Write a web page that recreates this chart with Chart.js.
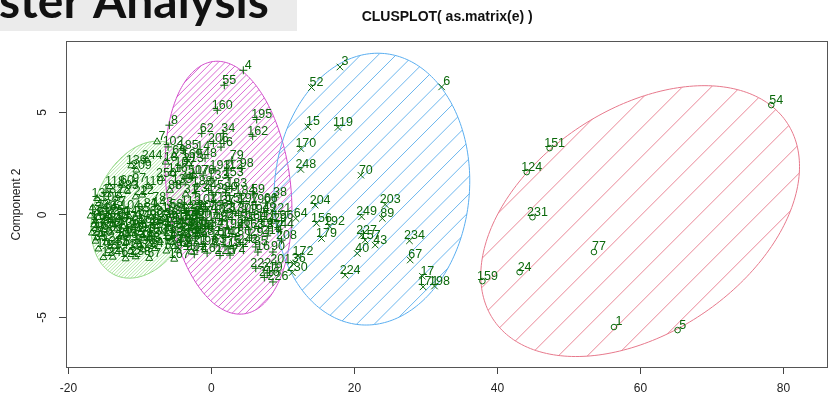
<!DOCTYPE html>
<html>
<head>
<meta charset="utf-8">
<script src="https://cdn.jsdelivr.net/npm/chart.js@4.4.1/dist/chart.umd.min.js"></script>
<style>
  html, body { margin: 0; padding: 0; background: #ffffff; }
  #wrap { position: relative; width: 833px; height: 405px; overflow: hidden; }
  canvas { display: block; }
</style>
</head>
<body>
<div id="wrap"><canvas id="clus" width="833" height="405"></canvas></div>
<script>
// ---- axis ticks ----
const xTickValues = [-20, 0, 20, 40, 60, 80];
const yTickValues = [-5, 0, 5];

// ---- cluster 1 (triangles) ----
const greenLabels = [
  7, 244, 209, 118, 60, 97, 132, 72, 12, 246,
  2, 131, 27, 104, 81, 143, 58, 113, 220,
  11, 93, 125, 30, 145, 68, 236, 21, 138, 177,
  19, 84, 120, 106, 32, 166, 241, 61, 126, 200,
  28, 9, 86, 140, 42, 115, 150, 73, 189, 233, 109,
  35, 127, 20, 99, 148, 65, 211, 45, 187,
  10, 91, 141, 39, 128, 247, 51, 94, 202,
  13, 122, 238, 57, 167,
  137, 105, 83, 22, 110, 250, 116, 44, 18, 69, 213, 117, 31, 88, 78, 139,
  74, 82, 95, 108,
  114, 136, 147, 149, 154, 158,
  165, 173, 176, 181, 191, 205,
  210, 217, 218, 223, 228,
  235, 239, 243
];
const greenX = [
  -7.6, -9.0, -10.5, -14.2, -12.5, -10.8, -14.5, -12.9, -9.7, -13.8,
  -16.6, -15.2, -13.6, -12.0, -9.2, -7.5, -5.6, -3.6, -2.2,
  -16.9, -15.8, -14.4, -13.0, -11.5, -8.4, -6.8, -5.0, -3.2, -1.8,
  -16.4, -15.0, -13.8, -12.3, -10.8, -9.5, -7.8, -6.1, -4.4, -2.7,
  -16.7, -15.5, -14.1, -12.6, -11.1, -9.9, -8.3, -6.6, -5.2, -3.5, -1.9,
  -16.2, -14.7, -13.2, -11.9, -10.3, -8.8, -7.2, -5.6, -3.9,
  -15.8, -14.4, -12.8, -11.3, -9.6, -7.9, -6.3, -4.7, -2.8,
  -15.1, -12.0, -10.6, -8.7, -5.2,
  -16.0, -14.8, -11.8, -10.6, -8.8, -7.0, -5.4, -4.0, -6.4, -5.2, -3.2, -2.4, -3.6, -5.8, -8.0, -11.2,
  -16.0, -14.0, -10.2, -6.2,
  -16.2, -14.9, -12.6, -9.8, -7.2, -4.0,
  -15.8, -13.2, -11.6, -8.9, -5.8, -2.3,
  -16.0, -12.3, -9.4, -6.0, -3.0,
  -13.6, -10.0, -5.2
];
const greenY = [
  3.57, 2.67, 2.19, 1.37, 1.45, 1.55, 1.01, 0.95, 0.97, -2.06,
  0.35, 0.28, 0.40, 0.22, 0.30, 0.38, 0.25, 0.42, 0.20,
  -0.05, -0.12, -0.02, -0.15, -0.08, -0.10, -0.18, -0.04, -0.14, -0.06,
  -0.48, -0.55, -0.44, -0.58, -0.50, -0.46, -0.56, -0.42, -0.52, -0.60,
  -0.88, -0.95, -0.84, -0.98, -0.90, -0.86, -0.96, -0.82, -0.94, -0.88, -0.98,
  -1.28, -1.36, -1.24, -1.34, -1.30, -1.38, -1.26, -1.32, -1.40,
  -1.66, -1.74, -1.68, -1.78, -1.70, -1.64, -1.76, -1.72, -1.80,
  -2.08, -2.14, -2.04, -2.12, -2.16,
  0.80, 0.62, 1.18, 0.88, 1.40, 1.78, 2.02, 1.60, 2.58, 2.90, 2.50, 1.92, 1.02, 1.20, 0.62, 2.40,
  0.10, 0.15, 0.05, 0.12,
  -0.30, -0.28, -0.34, -0.26, -0.32, -0.30,
  -0.72, -0.68, -0.74, -0.70, -0.66, -0.76,
  -1.12, -1.08, -1.14, -1.10, -1.16,
  -1.52, -1.48, -1.54
];

// ---- cluster 2 (plus signs) ----
const magentaLabels = [
  4, 55, 160, 195, 162, 8, 62, 34, 206, 46, 185, 102, 14, 48, 79, 98,
  193, 112, 76, 153, 133, 183, 38, 197, 182, 174, 16, 219, 226, 216, 208, 90,
  23, 129, 80, 184, 59,
  101, 215, 37, 152, 190, 66,
  123, 25, 178, 103, 237, 130, 75, 194, 49, 221,
  155, 33, 207, 146, 92, 240, 53, 164, 111, 229, 96,
  41, 186, 134, 71, 199, 26, 163, 212, 87, 144,
  168, 56, 232, 100, 142, 180, 29, 214,
  121, 196, 63, 175, 242, 85,
  47, 161, 225,
  107, 50, 188, 135, 245, 169, 222, 201
];
const magentaX = [
  4.46, 1.80, 0.82, 6.33, 5.77, -5.88, -1.36, 1.66, 0.27, 1.34, -3.93, -6.06, -1.86, -0.89, 2.84, 4.23,
  0.50, 2.32, -1.17, 2.36, 0.22, 2.84, 8.88, 4.44, 3.05, 2.60, 6.50, 7.80, 8.60, 7.40, 9.80, 8.60,
  -2.2, 0.2, 2.0, 4.0, 5.8,
  -1.4, 0.6, 1.6, 2.8, 6.2, 7.6,
  -3.6, -2.0, -0.6, 0.8, 2.2, 3.4, 4.8, 6.0, 7.4, 9.0,
  -4.0, -2.6, -1.2, 0.2, 1.5, 2.9, 4.2, 5.6, 7.0, 8.4, 9.8,
  -3.2, -1.8, -0.4, 1.0, 2.4, 3.8, 5.2, 6.6, 8.0, 9.4,
  -3.6, -2.2, -0.8, 0.6, 2.0, 3.4, 5.6, 7.8,
  -2.8, -1.2, 0.4, 1.9, 4.4, 6.2,
  -2.4, -0.6, 1.2,
  -4.4, -3.0, -2.0, -4.8, -0.4, -3.4, 6.2, 9.0
];
const magentaY = [
  7.06, 6.33, 5.11, 4.66, 3.84, 4.38, 3.98, 3.98, 3.49, 3.31, 3.16, 3.32, 3.07, 2.77, 2.67, 2.27,
  2.19, 2.19, 1.94, 1.83, 1.70, 1.29, 0.87, 0.57, -1.62, -1.96, -1.81, -2.83, -3.27, -3.05, -1.23, -1.81,
  1.04, 0.98, 1.08, 0.96, 1.02,
  0.52, 0.60, 0.48, 0.56, 0.50, 0.58,
  0.12, 0.06, 0.16, 0.04, 0.14, 0.08, 0.18, 0.02, 0.12, 0.06,
  -0.28, -0.34, -0.24, -0.36, -0.30, -0.22, -0.38, -0.26, -0.32, -0.40, -0.28,
  -0.68, -0.74, -0.64, -0.76, -0.70, -0.62, -0.72, -0.66, -0.78, -0.70,
  -1.08, -1.14, -1.04, -1.16, -1.10, -1.06, -1.12, -1.02,
  -1.48, -1.54, -1.46, -1.52, -1.44, -1.56,
  -1.92, -1.86, -1.98,
  2.30, 1.90, 1.40, 1.50, 1.20, 2.70, -2.60, -2.40
];

// ---- cluster 3 (x marks) ----
const blueLabels = [3, 52, 6, 15, 119, 170, 248, 70, 204, 203, 64, 249, 89, 156, 192,
  179, 227, 157, 43, 40, 234, 67, 172, 36, 230, 224, 17, 171, 198];
const blueX = [17.97, 14.0, 32.2, 13.5, 17.7, 12.5, 12.5, 20.9, 14.5, 24.3, 11.8, 21.0, 23.9, 14.7, 16.5,
  15.4, 21.0, 21.5, 22.9, 20.4, 27.7, 27.8, 12.1, 11.5, 11.3, 18.7, 29.5, 29.6, 31.2];
const blueY = [7.22, 6.22, 6.25, 4.30, 4.27, 3.24, 2.22, 1.94, 0.48, 0.51, -0.17, -0.09, -0.17, -0.41, -0.55,
  -1.15, -0.99, -1.23, -1.47, -1.88, -1.26, -2.20, -2.01, -2.38, -2.81, -2.94, -2.99, -3.51, -3.47];

// ---- cluster 4 (circles) ----
const redLabels = [54, 151, 124, 231, 77, 24, 159, 1, 5];
const redX = [78.3, 47.3, 44.1, 44.9, 53.5, 43.1, 37.9, 56.3, 65.2];
const redY = [5.36, 3.26, 2.09, -0.11, -1.81, -2.79, -3.23, -5.47, -5.62];

// ---- cluster ellipses: centre and two conjugate semi-axes (data units) ----
const ellipseCX = [-9.49, 2.39, 22.44, 59.96];
const ellipseCY = [0.26, 1.33, 1.26, -0.30];
const ellipseUX = [7.34, 8.87, 13.69, 22.29];
const ellipseUY = [0.90, -1.11, 0.40, 2.66];
const ellipseVX = [0, 0, 0, 0];
const ellipseVY = [-3.22, -6.07, -6.62, -6.05];

// ---- styling ----
const FONT = '"Liberation Sans", Arial, Helvetica, sans-serif';
const POINT_COLOR = '#0a680a';
const ELLIPSE_COLORS = ['#8ed680', '#d24ccb', '#5aaef0', '#e7798c'];
const HATCH_COLORS = ['#b2e7a7', '#da6ad3', '#6cb6ee', '#ea8797'];
const HATCH_GAP = [2.4, 4.8, 12.5, 20.5];   // perpendicular spacing of shading lines, px
const X_RANGE = [-20.2, 86.15];
const Y_RANGE = [-7.42, 8.44];

const toPoints = (xs, ys) => xs.map((v, i) => ({ x: v, y: ys[i] }));
const clusters = [
  { labels: greenLabels, data: toPoints(greenX, greenY), style: 'triangle', radius: 4 },
  { labels: magentaLabels, data: toPoints(magentaX, magentaY), style: 'cross', radius: 4 },
  { labels: blueLabels, data: toPoints(blueX, blueY), style: 'crossRot', radius: 4.6 },
  { labels: redLabels, data: toPoints(redX, redY), style: 'circle', radius: 2.8 }
];

// shaded ellipses behind the points
const ellipsePlugin = {
  id: 'clusterEllipses',
  beforeDatasetsDraw(chart) {
    const { ctx, chartArea: a, scales: { x, y } } = chart;
    ctx.save();
    ctx.beginPath();
    ctx.rect(a.left, a.top, a.right - a.left, a.bottom - a.top);
    ctx.clip();
    ellipseCX.forEach((cx, i) => {
      const pts = [];
      for (let k = 0; k <= 240; k++) {
        const t = (k / 240) * Math.PI * 2;
        const dx = cx + ellipseUX[i] * Math.cos(t) + ellipseVX[i] * Math.sin(t);
        const dy = ellipseCY[i] + ellipseUY[i] * Math.cos(t) + ellipseVY[i] * Math.sin(t);
        pts.push([x.getPixelForValue(dx), y.getPixelForValue(dy)]);
      }
      const path = new Path2D();
      pts.forEach(([px, py], k) => (k ? path.lineTo(px, py) : path.moveTo(px, py)));
      path.closePath();

      const xs = pts.map(p => p[0]);
      const ys = pts.map(p => p[1]);
      const minX = Math.min(...xs), maxX = Math.max(...xs);
      const minY = Math.min(...ys), maxY = Math.max(...ys);
      const step = HATCH_GAP[i] * Math.SQRT2;

      ctx.save();
      ctx.clip(path);
      ctx.strokeStyle = HATCH_COLORS[i];
      ctx.lineWidth = 1;
      ctx.beginPath();
      for (let c = minX + minY; c <= maxX + maxY; c += step) {
        ctx.moveTo(c - maxY, maxY);
        ctx.lineTo(c - minY, minY);
      }
      ctx.stroke();
      ctx.restore();

      ctx.strokeStyle = ELLIPSE_COLORS[i];
      ctx.lineWidth = 1;
      ctx.stroke(path);
    });
    ctx.restore();
  }
};

// observation numbers beside each point, plot frame and the corner banner
const labelPlugin = {
  id: 'pointLabels',
  afterDatasetsDraw(chart) {
    const { ctx, scales: { x, y } } = chart;
    ctx.save();
    ctx.font = '12.5px ' + FONT;
    ctx.fillStyle = POINT_COLOR;
    ctx.textAlign = 'center';
    ctx.textBaseline = 'middle';
    clusters.forEach(c => {
      c.data.forEach((p, i) => {
        const px = x.getPixelForValue(p.x);
        const py = y.getPixelForValue(p.y);
        ctx.fillText(String(c.labels[i]), px + 5, py - 5);
      });
    });
    ctx.restore();
  },
  afterDraw(chart) {
    const { ctx, chartArea: a } = chart;
    ctx.save();
    ctx.strokeStyle = '#555555';
    ctx.lineWidth = 1;
    ctx.strokeRect(Math.round(a.left) - 0.5, Math.round(a.top) - 0.5,
      Math.round(a.right) - Math.round(a.left) + 1, Math.round(a.bottom) - Math.round(a.top) + 1);

    ctx.fillStyle = '#ebebeb';
    ctx.fillRect(0, 0, 297, 31);
    ctx.fillStyle = '#111111';
    ctx.font = 'bold 48px Lato, "Open Sans", sans-serif';
    ctx.textAlign = 'left';
    ctx.textBaseline = 'alphabetic';
    ctx.fillText('ster Analysis', -1, 17.5);
    ctx.restore();
  }
};

new Chart(document.getElementById('clus'), {
  type: 'scatter',
  data: {
    datasets: clusters.map(c => ({
      data: c.data,
      pointStyle: c.style,
      pointRadius: c.radius,
      pointBorderWidth: 1,
      pointBorderColor: POINT_COLOR,
      pointBackgroundColor: 'rgba(0,0,0,0)',
      showLine: false,
      clip: false
    }))
  },
  options: {
    responsive: false,
    animation: false,
    devicePixelRatio: 1,
    layout: { padding: { left: 0, right: 5, top: 0, bottom: 0 } },
    plugins: {
      legend: { display: false },
      tooltip: { enabled: false },
      title: {
        display: true,
        fullSize: false,
        text: 'CLUSPLOT( as.matrix(e) )',
        color: '#111111',
        font: { family: FONT, size: 14, weight: 'bold', lineHeight: 1.2 },
        padding: { top: 8.3, bottom: 16.9 }
      }
    },
    scales: {
      x: {
        type: 'linear',
        position: 'bottom',
        min: X_RANGE[0],
        max: X_RANGE[1],
        afterBuildTicks: s => { s.ticks = xTickValues.map(v => ({ value: v })); },
        afterFit: s => { s.height = 38; },
        border: { display: false },
        grid: { drawOnChartArea: false, drawTicks: true, tickLength: 7, color: '#444444' },
        ticks: { autoSkip: false, maxRotation: 0, padding: 7.5, color: '#222222',
                 font: { family: FONT, size: 12, lineHeight: 1.2 } }
      },
      y: {
        type: 'linear',
        position: 'left',
        min: Y_RANGE[0],
        max: Y_RANGE[1],
        afterBuildTicks: s => { s.ticks = yTickValues.map(v => ({ value: v })); },
        afterFit: s => { s.width = 67; },
        border: { display: false },
        grid: { drawOnChartArea: false, drawTicks: true, tickLength: 8, color: '#444444' },
        ticks: { autoSkip: false, minRotation: 90, maxRotation: 90, crossAlign: 'center',
                 padding: 11, color: '#222222', font: { family: FONT, size: 12, lineHeight: 1.2 } },
        title: { display: true, text: 'Component 2', color: '#222222',
                 font: { family: FONT, size: 12, lineHeight: 1.2 }, padding: { top: 9.5, bottom: 0 } }
      }
    }
  },
  plugins: [ellipsePlugin, labelPlugin]
});
</script>
</body>
</html>
